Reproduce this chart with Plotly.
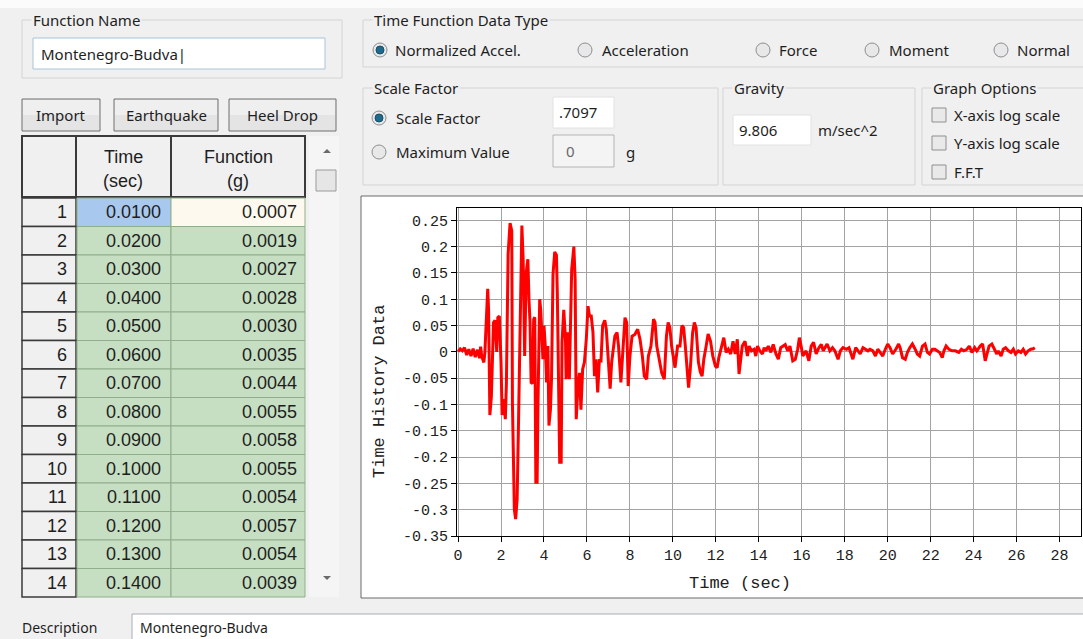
import plotly.graph_objects as go

W, H = 1083, 639

# ground motion record: time in sec, normalized accel in g
t_sec = [
    0.0, 0.1, 0.2, 0.3, 0.4, 0.5, 0.6, 0.7, 0.8, 0.9, 1.0, 1.05, 1.1, 1.2, 1.25,
    1.3, 1.38, 1.42, 1.48, 1.55, 1.6, 1.65, 1.72, 1.8, 1.85, 1.92, 2.0, 2.05,
    2.12, 2.2, 2.25, 2.3, 2.33, 2.42, 2.5, 2.53, 2.62, 2.68, 2.75, 2.82, 2.9,
    2.97, 3.03, 3.1, 3.17, 3.25, 3.3, 3.35, 3.4, 3.47, 3.52, 3.57, 3.62, 3.68,
    3.72, 3.8, 3.85, 3.9, 3.95, 4.0, 4.06, 4.12, 4.18, 4.23, 4.3, 4.35, 4.42,
    4.5, 4.58, 4.62, 4.68, 4.73, 4.8, 4.84, 4.92, 5.0, 5.03, 5.1, 5.18, 5.29,
    5.39, 5.45, 5.5, 5.58, 5.65, 5.72, 5.8, 5.88, 5.97, 6.05, 6.12, 6.2, 6.28,
    6.35, 6.42, 6.5, 6.58, 6.65, 6.73, 6.83, 6.9, 7.0, 7.08, 7.15, 7.3, 7.4,
    7.47, 7.58, 7.64, 7.77, 7.85, 7.92, 8.0, 8.1, 8.23, 8.36, 8.47, 8.58, 8.67,
    8.78, 8.86, 8.98, 9.1, 9.17, 9.25, 9.36, 9.48, 9.6, 9.7, 9.78, 9.86, 9.94,
    10.03, 10.1, 10.22, 10.33, 10.42, 10.5, 10.58, 10.66, 10.73, 10.81, 10.92,
    11.0, 11.08, 11.19, 11.28, 11.36, 11.44, 11.55, 11.64, 11.75, 11.86, 11.98,
    12.06, 12.14, 12.27, 12.37, 12.48, 12.58, 12.69, 12.8, 12.9, 13.0, 13.08,
    13.16, 13.23, 13.36, 13.47, 13.55, 13.66, 13.78, 13.86, 13.94, 14.05, 14.17,
    14.25, 14.33, 14.44, 14.56, 14.67, 14.8, 14.91, 15.02, 15.11, 15.23, 15.34,
    15.45, 15.58, 15.7, 15.81, 15.89, 15.97, 16.05, 16.2, 16.33, 16.44, 16.55,
    16.67, 16.8, 16.91, 17.0, 17.18, 17.31, 17.43, 17.54, 17.69, 17.8, 17.92,
    18.08, 18.2, 18.31, 18.38, 18.51, 18.62, 18.72, 18.85, 18.97, 19.08, 19.18,
    19.31, 19.43, 19.54, 19.65, 19.77, 19.89, 20.0, 20.11, 20.23, 20.38, 20.51,
    20.58, 20.69, 20.82, 20.92, 21.03, 21.15, 21.28, 21.38, 21.49, 21.62, 21.74,
    21.85, 21.95, 22.08, 22.2, 22.31, 22.42, 22.54, 22.62, 22.72, 22.85, 23.0,
    23.15, 23.31, 23.43, 23.54, 23.69, 23.8, 23.92, 24.05, 24.15, 24.31, 24.42,
    24.54, 24.62, 24.72, 24.85, 24.97, 25.08, 25.15, 25.28, 25.38, 25.49, 25.62,
    25.74, 25.85, 25.95, 26.08, 26.2, 26.31, 26.42, 26.54, 26.66, 26.77, 26.85,
]
accel_g = [
    0.0007, 0.0055, 0.002, 0.008, -0.006, 0.005, -0.008, 0.006, -0.01, 0.004,
    -0.012, 0.01, -0.008, -0.02, 0.0, 0.046, 0.12, 0.08, -0.12, -0.085, -0.02,
    0.056, 0.06, 0.0, 0.065, 0.068, -0.02, -0.12, -0.09, -0.128, -0.06, 0.065,
    0.186, 0.245, 0.23, -0.096, -0.3, -0.318, -0.28, -0.12, 0.113, 0.24, 0.176,
    -0.008, 0.15, 0.176, 0.1, 0.056, -0.058, -0.06, 0.062, 0.066, -0.248,
    -0.248, -0.1, 0.1, 0.08, 0.035, -0.014, 0.05, 0.011, -0.058, 0.011, -0.14,
    -0.11, -0.052, 0.148, 0.19, 0.184, 0.113, -0.027, -0.21, -0.21, 0.018,
    0.08, 0.024, -0.052, 0.037, -0.052, 0.157, 0.2, 0.138, -0.128, -0.065,
    -0.04, -0.11, -0.033, -0.02, 0.024, 0.087, 0.068, 0.068, 0.037, -0.046,
    -0.014, -0.077, -0.014, -0.02, 0.05, 0.06, 0.043, -0.014, -0.07, -0.02,
    0.03, 0.037, 0.011, -0.058, -0.02, 0.065, 0.056, -0.065, -0.008, 0.03,
    0.033, 0.043, 0.024, -0.008, -0.046, -0.052, -0.008, 0.011, 0.062, 0.056,
    0.011, -0.014, -0.04, -0.052, 0.03, 0.056, 0.046, 0.011, -0.014, -0.03,
    0.011, 0.011, 0.05, 0.046, 0.011, -0.039, -0.068, -0.033, 0.037, 0.056,
    0.046, -0.02, -0.039, -0.046, -0.014, 0.011, 0.034, 0.021, -0.008, -0.027,
    -0.03, -0.011, 0.011, 0.027, -0.001, 0.005, -0.004, 0.02, -0.004, 0.024,
    -0.042, -0.014, 0.011, 0.02, -0.008, 0.011, 0.002, 0.005, -0.008, 0.011,
    0.002, -0.004, 0.008, 0.002, 0.011, -0.001, 0.014, -0.004, -0.014, 0.008,
    0.011, 0.014, 0.002, 0.011, -0.017, -0.014, 0.005, 0.027, 0.011, -0.008,
    0.002, -0.017, 0.011, 0.018, -0.004, 0.008, 0.014, 0.002, 0.015, 0.002,
    0.008, 0.002, -0.014, 0.002, 0.008, 0.005, 0.008, -0.004, -0.014, 0.008,
    0.002, -0.004, 0.008, 0.005, 0.002, 0.005, 0.002, -0.008, 0.005, -0.001,
    -0.008, 0.005, 0.015, 0.008, -0.004, 0.005, 0.015, 0.008, -0.011, -0.014,
    -0.001, 0.008, 0.015, 0.005, -0.004, -0.008, 0.011, 0.015, -0.001, -0.004,
    0.005, 0.005, 0.002, -0.001, -0.011, 0.002, 0.011, 0.005, 0.002, 0.002,
    -0.001, 0.005, 0.002, 0.005, 0.011, -0.001, 0.008, 0.002, 0.011, 0.015,
    -0.017, -0.004, 0.011, 0.015, 0.005, -0.004, 0.002, -0.008, 0.005, 0.008,
    0.002, -0.001, 0.005, -0.004, 0.002, -0.001, 0.005, -0.004, 0.002, 0.005,
    0.006, 0.008,
]

# table contents shown on the left
row_ids = list(range(1, 15))
table_time = ["0.0100", "0.0200", "0.0300", "0.0400", "0.0500", "0.0600", "0.0700",
              "0.0800", "0.0900", "0.1000", "0.1100", "0.1200", "0.1300", "0.1400"]
table_func = ["0.0007", "0.0019", "0.0027", "0.0028", "0.0030", "0.0035", "0.0044",
              "0.0055", "0.0058", "0.0055", "0.0054", "0.0057", "0.0054", "0.0039"]

y_ticks = [-0.35, -0.3, -0.25, -0.2, -0.15, -0.1, -0.05, 0, 0.05, 0.1, 0.15, 0.2, 0.25]
y_tick_text = ["-0.35", "-0.3", "-0.25", "-0.2", "-0.15", "-0.1", "-0.05",
               "0", "0.05", "0.1", "0.15", "0.2", "0.25"]
x_ticks = list(range(0, 30, 2))

UI_FONT = "Noto Sans"
CELL_FONT = "Liberation Sans"
MONO = "Liberation Mono"


def px(x):
    return x / W


def py(y):
    return 1 - y / H


fig = go.Figure()


def rect(x0, y0, x1, y1, fill, line=None, lw=1):
    fig.add_shape(type="rect", xref="paper", yref="paper",
                  x0=px(x0), x1=px(x1), y0=py(y1), y1=py(y0),
                  fillcolor=fill, layer="below",
                  line=dict(color=line if line else "rgba(0,0,0,0)", width=lw if line else 0))


def vline(x, y0, y1, color, lw=1):
    fig.add_shape(type="line", xref="paper", yref="paper", layer="below",
                  x0=px(x), x1=px(x), y0=py(y1), y1=py(y0), line=dict(color=color, width=lw))


def text(x, y, s, size=15, anchor="left", family=UI_FONT, color="#1e1e1e", bg=None, angle=0):
    fig.add_annotation(xref="paper", yref="paper", x=px(x), y=py(y), text=s,
                       showarrow=False, xanchor=anchor, yanchor="middle",
                       textangle=angle,
                       font=dict(family=family, size=size, color=color),
                       bgcolor=bg, borderpad=1)


def radio(cx, cy, on=False):
    r = 7
    fig.add_shape(type="circle", xref="paper", yref="paper", layer="below",
                  x0=px(cx - r), x1=px(cx + r), y0=py(cy + r), y1=py(cy - r),
                  fillcolor="#e8e8e8", line=dict(color="#8c8e90", width=1))
    if on:
        r2 = 4
        fig.add_shape(type="circle", xref="paper", yref="paper", layer="below",
                      x0=px(cx - r2), x1=px(cx + r2), y0=py(cy + r2), y1=py(cy - r2),
                      fillcolor="#1f6a8c", line=dict(color="#154f6a", width=1))


def checkbox(cx, cy):
    rect(cx - 7, cy - 7, cx + 7, cy + 7, "#e9e9e9", "#8e8f8f")


def tri(cx, cy, up=True):
    d = -1 if up else 1
    path = (f"M {px(cx - 4)},{py(cy - 2 * d)} L {px(cx + 4)},{py(cy - 2 * d)} "
            f"L {px(cx)},{py(cy + 2 * d)} Z")
    fig.add_shape(type="path", xref="paper", yref="paper", layer="below", path=path,
                  fillcolor="#6a6a6a", line=dict(width=0))


def groupbox(x0, y0, x1, y1, title):
    rect(x0, y0, x1, y1, "rgba(0,0,0,0)", "#d4d4d4")
    text(x0 + 9, y0, title, bg="#f0f0f0")


def button(x0, y0, x1, y1, label):
    rect(x0, y0, x1, y1, "#e4e4e4", "#707070")
    rect(x0 + 1, y0 + 1, x1 - 1, (y0 + y1) / 2, "#efefef")
    text((x0 + x1) / 2, (y0 + y1) / 2, label, anchor="center")


# top strip
rect(0, 0, W, 8, "#fbfbfb")

# function name
groupbox(22, 20, 342, 78, "Function Name")
rect(33, 38, 325, 69, "#ffffff", "#a9c4dc")
text(39, 54, "Montenegro-Budva|")

# buttons
button(22, 99, 100, 131, "Import")
button(114, 99, 218, 131, "Earthquake")
button(229, 99, 336, 131, "Heel Drop")

# table header
rect(22, 136, 305, 197, "#f0f0f0", "#3a3a3a", 2)
vline(76, 136, 197, "#3a3a3a", 2)
vline(171, 136, 197, "#3a3a3a", 2)
text(123, 157, "Time", size=18, anchor="center", family=CELL_FONT)
text(123, 181, "(sec)", size=18, anchor="center", family=CELL_FONT)
text(238, 157, "Function", size=18, anchor="center", family=CELL_FONT)
text(238, 181, "(g)", size=18, anchor="center", family=CELL_FONT)

# table rows
row_h = 28.5
for i, rid in enumerate(row_ids):
    y0 = 198 + row_h * i
    y1 = min(y0 + row_h, 597)
    rect(22, y0, 76, y1, "#f0f0f0", "#3a3a3a", 1.5)
    t_fill = "#a8c8ee" if i == 0 else "#c6dfc3"
    f_fill = "#fdf9ee" if i == 0 else "#c6dfc3"
    rect(77, y0, 171, y1, t_fill, "#90ad8c", 1)
    rect(171, y0, 305, y1, f_fill, "#90ad8c", 1)
    yc = y0 + row_h / 2
    text(69, yc, str(rid), size=18, anchor="right", family=CELL_FONT)
    text(163, yc, table_time[i], size=18, anchor="right", family=CELL_FONT)
    text(299, yc, table_func[i], size=18, anchor="right", family=CELL_FONT)

# scrollbar
rect(309, 136, 339, 597, "#f5f5f5")
rect(316, 170, 336, 191, "#e6e6e6", "#9a9a9a")
tri(327, 151, up=True)
tri(327, 578, up=False)

# data type group
groupbox(363, 20, 1090, 67, "Time Function Data Type")
radio(380, 50, True)
text(393, 50, "Normalized Accel.")
radio(585, 50)
text(600, 50, "Acceleration")
radio(763, 50)
text(777, 50, "Force")
radio(872, 50)
text(887, 50, "Moment")
radio(1001, 50)
text(1015, 50, "Normal")

# scale factor group
groupbox(363, 88, 718, 185, "Scale Factor")
radio(379, 118, True)
text(394, 118, "Scale Factor")
radio(379, 152)
text(394, 152, "Maximum Value")
rect(553, 97, 614, 128, "#ffffff", "#e2e2e2")
text(557, 112, ".7097")
rect(553, 135, 614, 167, "#f4f4f4", "#b4b4b4")
text(564, 151, "0", color="#6a6a6a")
text(624, 152, "g")

# gravity group
groupbox(723, 88, 915, 185, "Gravity")
rect(733, 115, 811, 145, "#ffffff", "#e2e2e2")
text(737, 130, "9.806")
text(816, 130, "m/sec^2")

# graph options group
groupbox(922, 88, 1090, 185, "Graph Options")
checkbox(939, 115)
text(952, 115, "X-axis log scale")
checkbox(939, 143)
text(952, 143, "Y-axis log scale")
checkbox(939, 172)
text(952, 172, "F.F.T")

# chart panel
rect(361, 196, 1090, 598, "#ffffff", "#6a6a6a")

# description row
rect(132, 614, 1090, 650, "#ffffff", "#abadb3")
text(20, 627, "Description", size=14)
text(138, 627, "Montenegro-Budva", size=14)

# the time history
fig.add_trace(go.Scatter(x=t_sec, y=accel_g, mode="lines",
                         line=dict(color="#ff0000", width=3),
                         hoverinfo="skip", showlegend=False))

axis_common = dict(showline=True, linecolor="#000000", linewidth=1, mirror=True,
                   showgrid=True, gridcolor="#a3a3a3", gridwidth=1, zeroline=False,
                   ticks="outside", ticklen=5, tickcolor="#000000", automargin=False,
                   tickfont=dict(family=MONO, size=15, color="#202020"))

fig.update_xaxes(domain=[px(457), px(1081)], range=[-0.05, 29.0],
                 tickvals=x_ticks, **axis_common)
fig.update_yaxes(domain=[py(536), py(208)], range=[-0.35, 0.2735],
                 tickvals=y_ticks, ticktext=y_tick_text, **axis_common)

# axis titles
text(379, 392, "Time History Data", size=17, anchor="center", family=MONO,
     color="#202020", angle=-90)
text(740, 583, "Time (sec)", size=17, anchor="center", family=MONO, color="#202020")

fig.update_layout(width=W, height=H, autosize=False,
                  margin=dict(l=0, r=0, t=0, b=0, pad=0),
                  paper_bgcolor="#f0f0f0", plot_bgcolor="#ffffff",
                  showlegend=False)

fig.write_html("out.html", config={"displayModeBar": False},
               post_script="document.body.style.margin='0';document.body.style.overflow='hidden';")
